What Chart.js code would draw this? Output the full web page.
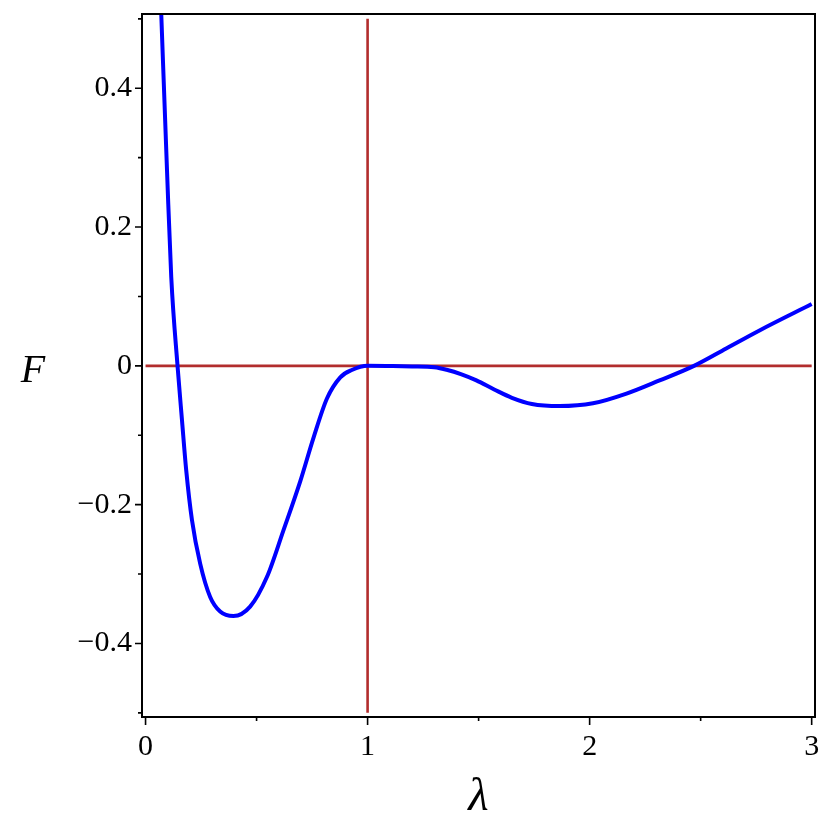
<!DOCTYPE html>
<html>
<head>
<meta charset="utf-8">
<script src="https://cdn.jsdelivr.net/npm/chart.js@4"></script>
<style>
  html, body { margin: 0; padding: 0; background: #fff; }
  #wrap { width: 830px; height: 830px; }
</style>
</head>
<body>
<div id="wrap"><canvas id="chart"></canvas></div>
<script>
// curve F(lambda)
const lambdaVals = [0.065, 0.0707, 0.0977, 0.1157, 0.144, 0.164, 0.183, 0.209, 0.246, 0.291, 0.336, 0.396,
  0.471, 0.547, 0.621, 0.697, 0.757, 0.817, 0.877, 0.929, 1.0, 1.1, 1.2, 1.3, 1.36, 1.42, 1.49,
  1.57, 1.65, 1.74, 1.865, 2.015, 2.166, 2.315, 2.47, 2.615, 2.765, 3.0];
const fVals = [0.557, 0.507, 0.2725, 0.128, 0.0, -0.078, -0.150, -0.222, -0.285, -0.333, -0.354, -0.3605,
  -0.347, -0.304, -0.237, -0.166, -0.103, -0.047, -0.0165, -0.006, 0.0, -0.0003, -0.0008, -0.002, -0.006, -0.012, -0.021,
  -0.034, -0.046, -0.055, -0.058, -0.054, -0.040, -0.021, 0.0, 0.025, 0.051, 0.089];

// reference lines
const hLineX = [0, 3];
const hLineY = [0, 0];
const vLineX = [1, 1];
const vLineY = [-0.5, 0.5];

// ticks
const xTicks = [0, 1, 2, 3];
const xTickLabels = ['0', '1', '2', '3'];
const xMinorTicks = [0.5, 1.5, 2.5];
const yTicks = [-0.4, -0.2, 0, 0.2, 0.4];
const yTickLabels = ['\u22120.4', '\u22120.2', '0', '0.2', '0.4'];
const yMinorTicks = [-0.5, -0.3, -0.1, 0.1, 0.3, 0.5];

const xLabel = '\u03bb';
const yLabel = 'F';

const toPoints = (xs, ys) => xs.map((x, i) => ({ x: x, y: ys[i] }));

const tickFont = { family: 'Liberation Serif', size: 30 };
const red = '#b22d2d';

// frame, tick marks and axis titles
const framePlugin = {
    id: 'frame',
    afterDatasetsDraw(chart) {
        const ctx = chart.ctx;
        const a = chart.chartArea;
        const xs = chart.scales.x;
        const ys = chart.scales.y;
        ctx.save();
        ctx.strokeStyle = '#000';
        ctx.lineWidth = 2;
        ctx.strokeRect(a.left, a.top, a.right - a.left, a.bottom - a.top);

        ctx.lineWidth = 1.6;
        ctx.beginPath();
        xTicks.forEach(v => { const p = xs.getPixelForValue(v); ctx.moveTo(p, a.bottom); ctx.lineTo(p, a.bottom + 8); });
        xMinorTicks.forEach(v => { const p = xs.getPixelForValue(v); ctx.moveTo(p, a.bottom); ctx.lineTo(p, a.bottom + 4); });
        yTicks.forEach(v => { const p = ys.getPixelForValue(v); ctx.moveTo(a.left, p); ctx.lineTo(a.left - 7, p); });
        yMinorTicks.forEach(v => { const p = ys.getPixelForValue(v); ctx.moveTo(a.left, p); ctx.lineTo(a.left - 4, p); });
        ctx.stroke();

        ctx.fillStyle = '#000';
        ctx.textAlign = 'center';
        ctx.textBaseline = 'alphabetic';
        ctx.font = 'italic 40px "Liberation Serif"';
        ctx.fillText(yLabel, 33, 382);
        ctx.font = 'italic 47px "Liberation Serif"';
        ctx.fillText(xLabel, (a.left + a.right) / 2, 810);
        ctx.restore();
    }
};

new Chart(document.getElementById('chart').getContext('2d'), {
    type: 'scatter',
    data: {
        datasets: [{
            data: toPoints(lambdaVals, fVals),
            showLine: true,
            borderColor: '#0000ff',
            borderWidth: 4,
            pointRadius: 0,
            cubicInterpolationMode: 'monotone'
        }, {
            data: toPoints(hLineX, hLineY),
            showLine: true,
            borderColor: red,
            borderWidth: 2.6,
            pointRadius: 0
        }, {
            data: toPoints(vLineX, vLineY),
            showLine: true,
            borderColor: red,
            borderWidth: 2.6,
            pointRadius: 0
        }]
    },
    options: {
        responsive: true,
        maintainAspectRatio: false,
        animation: false,
        layout: { padding: { left: 0, top: 14, right: 15, bottom: 0 } },
        plugins: { legend: { display: false }, tooltip: { enabled: false } },
        scales: {
            x: {
                type: 'linear',
                min: -0.016,
                max: 3.015,
                afterBuildTicks: s => { s.ticks = xTicks.map(v => ({ value: v })); },
                afterFit: s => { s.height = 113; s.paddingLeft = 0; s.paddingRight = 0; },
                grid: { display: false, drawTicks: false },
                border: { display: false },
                ticks: {
                    callback: (v, i) => xTickLabels[i],
                    font: tickFont,
                    color: '#000',
                    padding: 12,
                    maxRotation: 0,
                    autoSkip: false
                }
            },
            y: {
                type: 'linear',
                min: -0.506,
                max: 0.507,
                afterBuildTicks: s => { s.ticks = yTicks.map(v => ({ value: v })); },
                afterFit: s => { s.width = 142; s.paddingTop = 0; s.paddingBottom = 0; },
                grid: { display: false, drawTicks: false },
                border: { display: false },
                ticks: {
                    callback: (v, i) => yTickLabels[i],
                    font: tickFont,
                    color: '#000',
                    padding: 10,
                    autoSkip: false
                }
            }
        }
    },
    plugins: [framePlugin]
});
</script>
</body>
</html>
